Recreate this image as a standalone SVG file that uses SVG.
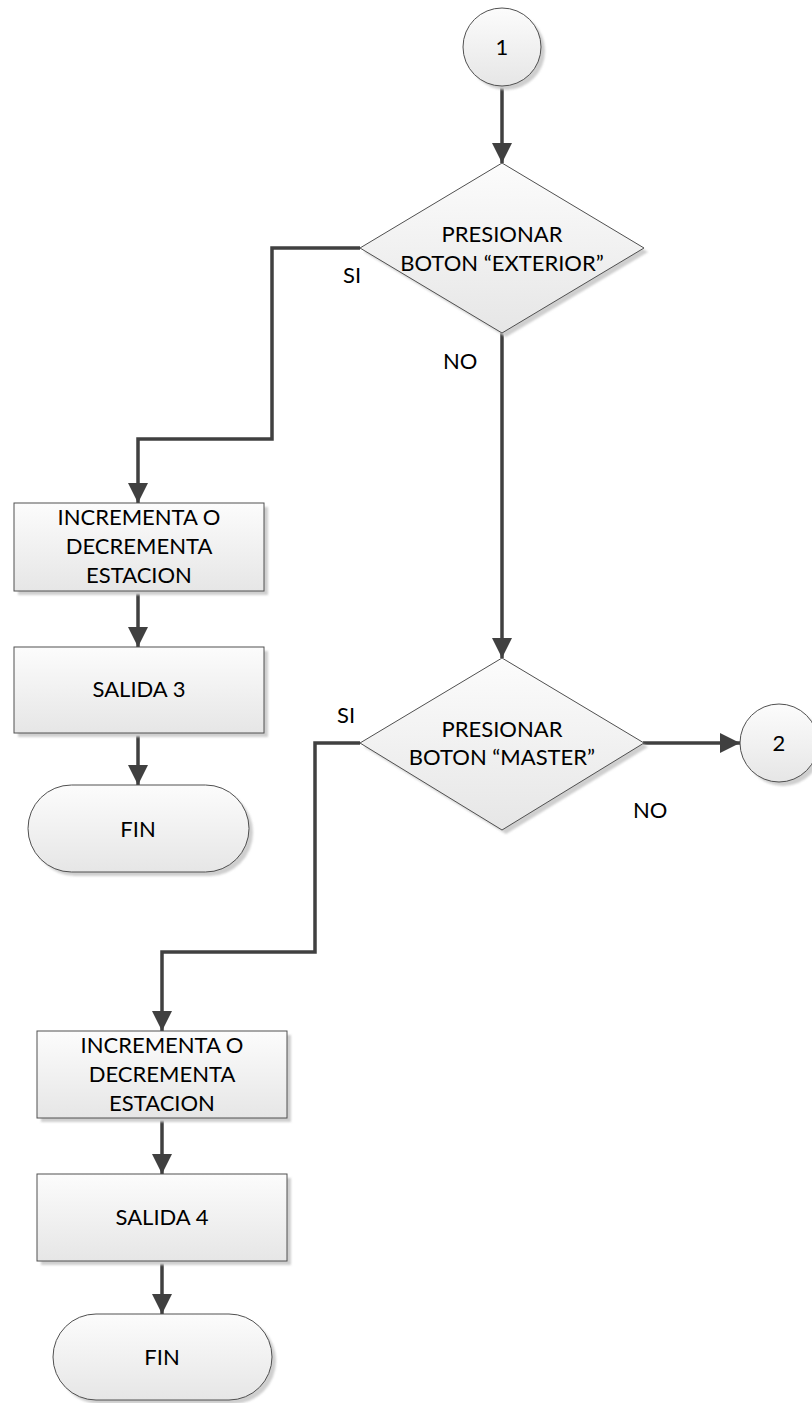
<svg xmlns="http://www.w3.org/2000/svg" width="812" height="1403" viewBox="0 0 812 1403">
  <defs>
    <linearGradient id="fillGrad" x1="0" y1="0" x2="0" y2="1">
      <stop offset="0" stop-color="#fcfcfc"/>
      <stop offset="1" stop-color="#e6e6e6"/>
    </linearGradient>
    <filter id="shadowBlur" x="-10%" y="-10%" width="130%" height="130%">
      <feGaussianBlur stdDeviation="1"/>
    </filter>
    <marker id="arrow" viewBox="0 0 20 20" refX="20" refY="10" markerWidth="20" markerHeight="20" markerUnits="userSpaceOnUse" orient="auto">
      <path d="M0,0 L20,10 L0,20 Z" fill="#404040"/>
    </marker>
    <style>
      .shape { fill: url(#fillGrad); stroke: #505050; stroke-width: 1; }
      .shadow { fill: #cfcfcf; filter: url(#shadowBlur); }
      .label { font-family: Lato, "Liberation Sans", sans-serif; font-size: 22px; fill: #000; }
      .mid { text-anchor: middle; }
      .conn { fill: none; stroke: #404040; stroke-width: 3.5; marker-end: url(#arrow); }
    </style>
  </defs>

  <!-- connectors -->
  <g id="connectors">
    <path class="conn" d="M502,87 V163"/>
    <path class="conn" d="M360,248 H272 V439 H138 V503"/>
    <path class="conn" d="M502,333 V658"/>
    <path class="conn" d="M138,591 V647"/>
    <path class="conn" d="M138,733 V785"/>
    <path class="conn" d="M643,743 H740"/>
    <path class="conn" d="M360,743 H315 V952 H162 V1031"/>
    <path class="conn" d="M162,1118 V1174"/>
    <path class="conn" d="M162,1261 V1314"/>
  </g>

  <!-- connector labels -->
  <g id="labels">
    <text class="label" x="343" y="283">SI</text>
    <text class="label" x="443" y="369">NO</text>
    <text class="label" x="337" y="723">SI</text>
    <text class="label" x="633" y="818">NO</text>
  </g>

  <g id="start1">
    <circle class="shadow" cx="506" cy="51" r="39"/>
    <circle class="shape" cx="502" cy="47" r="39"/>
    <text class="label mid" x="502" y="55">1</text>
  </g>

  <g id="decision-exterior">
    <polygon class="shadow" points="506,167 648,252 506,337 364,252"/>
    <polygon class="shape" points="502,163 644,248 502,333 360,248"/>
    <text class="label mid" x="502" y="242">PRESIONAR</text>
    <text class="label mid" x="502" y="271">BOTON “EXTERIOR”</text>
  </g>

  <g id="step-estacion-1">
    <rect class="shadow" x="18" y="507" width="250" height="88"/>
    <rect class="shape" x="14" y="503" width="250" height="88"/>
    <text class="label mid" x="139" y="525">INCREMENTA O</text>
    <text class="label mid" x="139" y="554">DECREMENTA</text>
    <text class="label mid" x="139" y="583">ESTACION</text>
  </g>

  <g id="step-salida-3">
    <rect class="shadow" x="18" y="651" width="250" height="86"/>
    <rect class="shape" x="14" y="647" width="250" height="86"/>
    <text class="label mid" x="139" y="697">SALIDA 3</text>
  </g>

  <g id="end-1">
    <rect class="shadow" x="32" y="789" width="221" height="87" rx="43.5"/>
    <rect class="shape" x="28" y="785" width="221" height="87" rx="43.5"/>
    <text class="label mid" x="138" y="837">FIN</text>
  </g>

  <g id="decision-master">
    <polygon class="shadow" points="506,662 648,747 506,834 364,747"/>
    <polygon class="shape" points="502,658 644,743 502,830 360,743"/>
    <text class="label mid" x="502" y="737">PRESIONAR</text>
    <text class="label mid" x="502" y="765">BOTON “MASTER”</text>
  </g>

  <g id="connector2">
    <circle class="shadow" cx="783" cy="747" r="39"/>
    <circle class="shape" cx="779" cy="743" r="39"/>
    <text class="label mid" x="779" y="751">2</text>
  </g>

  <g id="step-estacion-2">
    <rect class="shadow" x="41" y="1035" width="250" height="87"/>
    <rect class="shape" x="37" y="1031" width="250" height="87"/>
    <text class="label mid" x="162" y="1053">INCREMENTA O</text>
    <text class="label mid" x="162" y="1082">DECREMENTA</text>
    <text class="label mid" x="162" y="1111">ESTACION</text>
  </g>

  <g id="step-salida-4">
    <rect class="shadow" x="41" y="1178" width="250" height="87"/>
    <rect class="shape" x="37" y="1174" width="250" height="87"/>
    <text class="label mid" x="162" y="1225">SALIDA 4</text>
  </g>

  <g id="end-2">
    <rect class="shadow" x="57" y="1318" width="219" height="86" rx="43"/>
    <rect class="shape" x="53" y="1314" width="219" height="86" rx="43"/>
    <text class="label mid" x="162" y="1365">FIN</text>
  </g>
</svg>
